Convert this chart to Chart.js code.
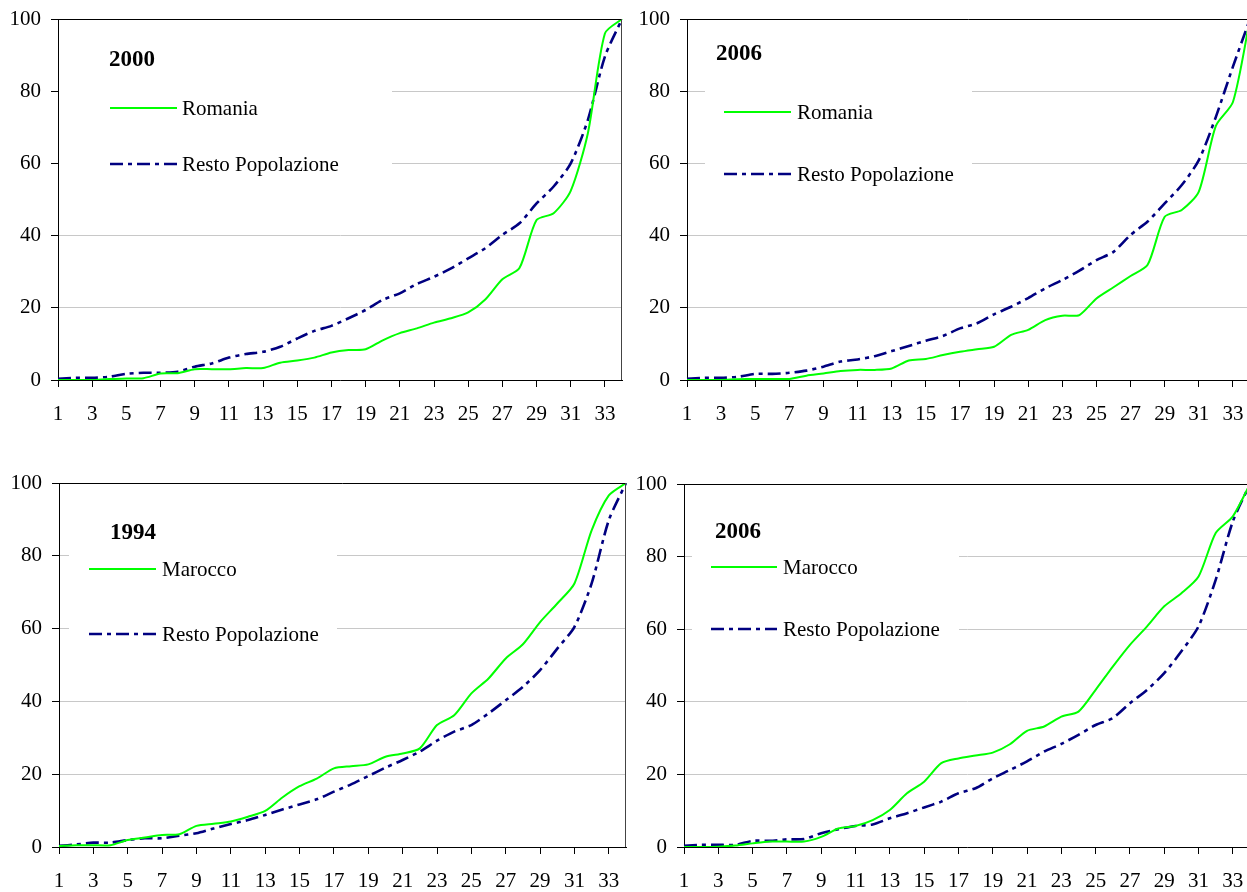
<!DOCTYPE html>
<html lang="it">
<head>
  <meta charset="UTF-8">
  <title>Curve cumulative - Romania e Marocco</title>
  <style>
    body, html {
      margin: 0;
      padding: 0;
      background: #fff;
      width: 1247px;
      height: 892px;
      overflow: hidden;
    }
    canvas { position: absolute; }
    #c1 { left: 0; top: 0; }
    #c2 { left: 629px; top: 0; }
    #c3 { left: 1px; top: 440px; }
    #c4 { left: 626px; top: 440px; }
  </style>
</head>
<body>
  <canvas id="c1" width="640" height="440"></canvas>
  <canvas id="c2" width="640" height="440"></canvas>
  <canvas id="c3" width="640" height="452"></canvas>
  <canvas id="c4" width="640" height="452"></canvas>

  <script src="https://cdn.jsdelivr.net/npm/chart.js"></script>
  <script>
    // categorie asse x
    const xLabels = ['1','2','3','4','5','6','7','8','9','10','11','12','13','14','15','16','17',
                     '18','19','20','21','22','23','24','25','26','27','28','29','30','31','32','33','34'];

    // Romania 2000
    const romania2000 = [0, 0, 0, 0.3, 0.4, 0.5, 1.8, 1.9, 3.0, 3.0, 3.0, 3.3, 3.3, 4.8, 5.4, 6.2, 7.6,
                         8.3, 8.5, 11.0, 13.0, 14.3, 15.9, 17.1, 18.7, 22.3, 27.9, 31.0, 44.3, 46.2, 52.4, 68.3, 96.0, 100];
    const resto2000 = [0.3, 0.6, 0.6, 0.9, 1.7, 2.0, 2.0, 2.3, 3.7, 4.6, 6.2, 7.2, 7.8, 9.2, 11.5, 13.6, 15.0,
                       17.1, 19.4, 22.2, 24.0, 26.6, 28.6, 30.9, 33.7, 36.5, 40.2, 43.4, 48.9, 53.6, 60.0, 72.0, 89.6, 100];

    // Romania 2006
    const romania2006 = [0, 0, 0, 0.2, 0.3, 0.3, 0.3, 1.2, 1.8, 2.5, 2.8, 2.8, 3.2, 5.4, 5.8, 6.9, 7.8,
                         8.5, 9.2, 12.5, 13.9, 16.6, 17.8, 18.0, 22.6, 25.7, 28.8, 31.9, 45.2, 47.1, 52.2, 70.4, 77.0, 100];
    const restoR2006 = [0.3, 0.6, 0.6, 0.9, 1.7, 1.7, 2.0, 2.6, 3.7, 5.1, 5.7, 6.6, 8.0, 9.4, 10.9, 12.2, 14.3,
                        15.7, 18.2, 20.3, 22.7, 25.4, 27.7, 30.3, 33.2, 35.5, 40.2, 43.9, 48.9, 54.0, 60.9, 72.9, 86.8, 100];

    // Marocco 1994
    const marocco1994 = [0.3, 0.5, 0.5, 0.5, 1.9, 2.6, 3.3, 3.5, 5.8, 6.4, 7.0, 8.3, 9.9, 13.6, 16.7, 18.8, 21.6,
                         22.2, 22.7, 24.8, 25.7, 27.1, 33.5, 36.2, 42.2, 46.3, 51.8, 55.7, 61.8, 66.9, 72.4, 87.0, 96.6, 100];
    const resto1994 = [0.3, 0.7, 1.2, 1.2, 1.9, 2.4, 2.4, 3.1, 3.8, 5.1, 6.3, 7.4, 8.8, 10.3, 11.7, 13.1, 15.2,
                       17.2, 19.5, 21.8, 23.9, 26.2, 29.2, 31.7, 33.5, 36.7, 40.3, 44.0, 48.6, 54.5, 60.5, 72.4, 89.8, 100];

    // Marocco 2006
    const marocco2006 = [0, 0, 0.1, 0.4, 1.0, 1.5, 1.5, 1.5, 2.8, 5.1, 5.8, 7.4, 10.2, 14.8, 18.0, 23.1, 24.4,
                         25.2, 26.0, 28.3, 32.0, 33.2, 35.9, 37.3, 43.3, 49.7, 55.7, 60.8, 66.3, 69.9, 74.5, 86.5, 91.1, 100];
    const restoM2006 = [0.3, 0.6, 0.6, 0.6, 1.7, 1.7, 2.1, 2.2, 3.8, 4.9, 5.8, 6.2, 7.9, 9.3, 10.9, 12.5, 14.8,
                        16.2, 18.9, 21.2, 23.6, 26.3, 28.4, 30.9, 33.6, 35.5, 39.6, 43.3, 47.9, 53.9, 60.8, 73.6, 89.7, 100];

    const yTicks = [0, 20, 40, 60, 80, 100];

    const GREEN = '#00ff00';
    const NAVY = '#000080';
    const DASH = [13, 5, 4, 5];
    const FONT = '"Liberation Serif", "Times New Roman", serif';

    Chart.defaults.font.family = FONT;
    Chart.defaults.font.size = 21;
    Chart.defaults.color = '#000';

    // legenda interna con riquadro bianco + cornice del plot
    const panelLegend = {
      id: 'panelLegend',
      beforeDatasetsDraw(chart, args, opts) {
        const a = chart.chartArea;
        const ctx = chart.ctx;
        ctx.save();
        ctx.fillStyle = '#fff';
        ctx.fillRect(a.left + opts.box[0], a.top + opts.box[1], opts.box[2], opts.box[3]);
        ctx.restore();
      },
      afterDatasetsDraw(chart, args, opts) {
        const a = chart.chartArea;
        const ctx = chart.ctx;
        ctx.save();

        // cornice sopra e a destra
        ctx.lineWidth = 1;
        ctx.strokeStyle = '#000';
        ctx.beginPath();
        ctx.moveTo(a.left, a.top + 0.5);
        ctx.lineTo(a.right, a.top + 0.5);
        ctx.stroke();
        ctx.strokeStyle = '#444';
        ctx.beginPath();
        ctx.moveTo(a.right - 0.5, a.top);
        ctx.lineTo(a.right - 0.5, a.bottom);
        ctx.stroke();

        // titolo anno
        ctx.fillStyle = '#000';
        ctx.font = 'bold 23px ' + FONT;
        ctx.textBaseline = 'alphabetic';
        ctx.textAlign = 'left';
        ctx.fillText(opts.title, a.left + opts.titleAt[0], a.top + opts.titleAt[1]);

        // voci
        ctx.font = '21px ' + FONT;
        ctx.textBaseline = 'middle';
        chart.data.datasets.forEach((ds, i) => {
          const y = a.top + opts.rows[i];
          ctx.strokeStyle = ds.borderColor;
          ctx.lineWidth = ds.borderWidth;
          ctx.setLineDash(ds.borderDash || []);
          ctx.beginPath();
          ctx.moveTo(a.left + opts.sample[0], y);
          ctx.lineTo(a.left + opts.sample[1], y);
          ctx.stroke();
          ctx.setLineDash([]);
          ctx.fillText(ds.label, a.left + opts.textX, y + 1);
        });
        ctx.restore();
      }
    };

    function makePanel(id, p) {
      new Chart(document.getElementById(id), {
        type: 'line',
        data: {
          labels: xLabels,
          datasets: [
            {
              label: p.name,
              data: p.green,
              borderColor: GREEN,
              borderWidth: 2,
              pointRadius: 0,
              tension: 0.25,
              fill: false
            },
            {
              label: 'Resto Popolazione',
              data: p.navy,
              borderColor: NAVY,
              borderWidth: 2.6,
              borderDash: DASH,
              pointRadius: 0,
              tension: 0.25,
              fill: false
            }
          ]
        },
        options: {
          responsive: false,
          animation: false,
          events: [],
          layout: { padding: p.pad },
          plugins: {
            legend: { display: false },
            tooltip: { enabled: false },
            panelLegend: p.legend
          },
          scales: {
            x: {
              type: 'category',
              offset: false,
              afterFit: s => { s.height = p.xh; },
              grid: {
                drawOnChartArea: false,
                tickLength: 7,
                tickColor: c => (c.index % 2 === 0 ? '#000' : 'rgba(0,0,0,0)')
              },
              border: { color: '#000', width: 1 },
              ticks: {
                autoSkip: false,
                maxRotation: 0,
                padding: 15,
                callback: function (v, i) { return i % 2 === 0 ? this.getLabelForValue(v) : ''; }
              }
            },
            y: {
              min: yTicks[0],
              max: yTicks[yTicks.length - 1],
              afterFit: s => { s.width = 58; s.paddingTop = 0; s.paddingBottom = 0; },
              afterBuildTicks: s => { s.ticks = yTicks.map(v => ({ value: v })); },
              grid: { color: '#c8c8c8', tickLength: 7, tickColor: '#000' },
              border: { color: '#000', width: 1 },
              ticks: { padding: 10 }
            }
          }
        },
        plugins: [panelLegend]
      });
    }

    makePanel('c1', {
      name: 'Romania', green: romania2000, navy: resto2000,
      pad: { top: 19, right: 18, bottom: 0, left: 0 }, xh: 60,
      legend: { title: '2000', box: [1, 20, 333, 160], titleAt: [51, 47], sample: [52, 119], textX: 124, rows: [89, 145] }
    });
    makePanel('c2', {
      name: 'Romania', green: romania2006, navy: restoR2006,
      pad: { top: 19, right: 19, bottom: 0, left: 0 }, xh: 60,
      legend: { title: '2006', box: [18, 15, 267, 165], titleAt: [29, 41], sample: [37, 104], textX: 110, rows: [93, 155] }
    });
    makePanel('c3', {
      name: 'Marocco', green: marocco1994, navy: resto1994,
      pad: { top: 43, right: 15, bottom: 0, left: 0 }, xh: 45,
      legend: { title: '1994', box: [10, 20, 268, 155], titleAt: [51, 56], sample: [30, 97], textX: 103, rows: [86, 151] }
    });
    makePanel('c4', {
      name: 'Marocco', green: marocco2006, navy: restoM2006,
      pad: { top: 44, right: 16, bottom: 0, left: 0 }, xh: 45,
      legend: { title: '2006', box: [8, 20, 267, 150], titleAt: [31, 54], sample: [27, 93], textX: 99, rows: [83, 145] }
    });
  </script>
</body>
</html>
